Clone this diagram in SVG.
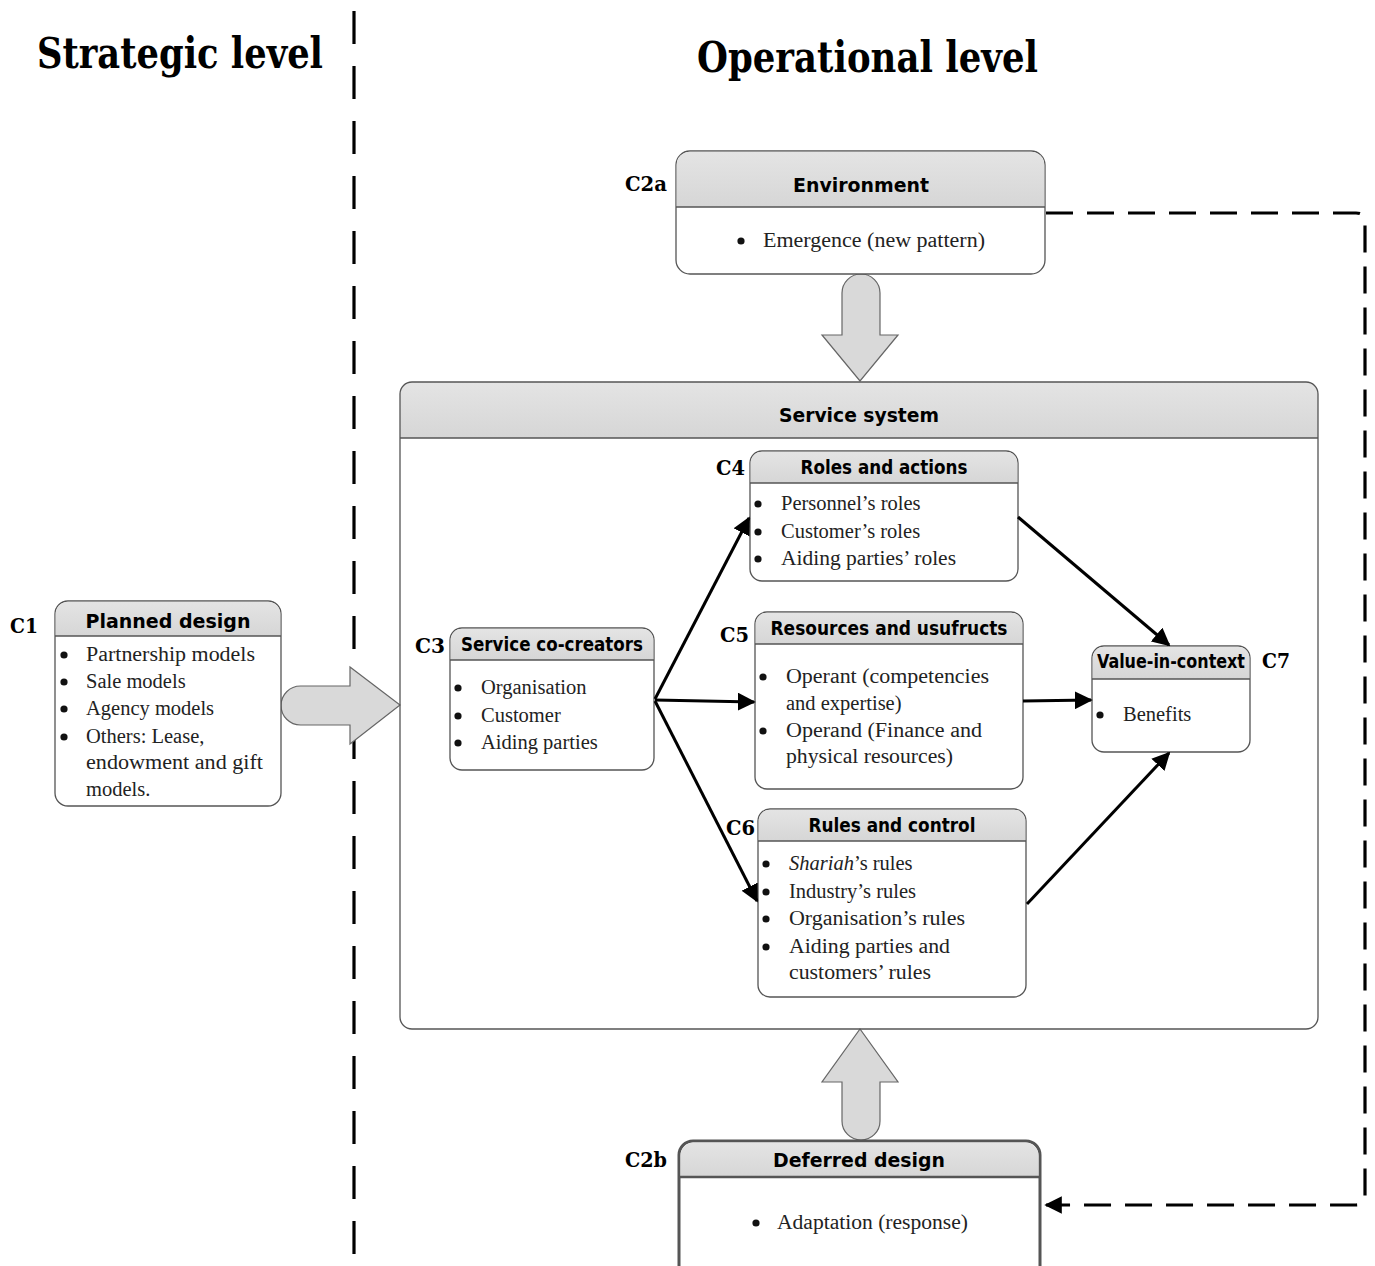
<svg xmlns="http://www.w3.org/2000/svg" width="1375" height="1266" viewBox="0 0 1375 1266">
  <style>
    .box { fill: #ffffff; stroke: #555555; stroke-width: 1.3; }
    .box2 { fill: #ffffff; stroke: #555555; stroke-width: 3; }
    .hdr { fill: url(#hdrGrad); }
    .sep { stroke: #555555; stroke-width: 1.3; }
    .sep2 { stroke: #555555; stroke-width: 2.5; }
    .title { font-family: "DejaVu Serif", "Liberation Serif", serif; font-weight: bold; font-size: 42px; fill: #000; }
    .head { font-family: "DejaVu Sans", "Liberation Sans", sans-serif; font-weight: bold; font-size: 20px; fill: #000; text-anchor: middle; }
    .tag { font-family: "DejaVu Serif", "Liberation Serif", serif; font-weight: bold; font-size: 21px; fill: #000; }
    .body { font-family: "Liberation Serif", "DejaVu Serif", serif; font-size: 20.5px; fill: #222; }
    .dot { fill: #111; }
    .fat { fill: #d9d9d9; stroke: #666666; stroke-width: 1.2; }
    .arr { stroke: #000; stroke-width: 3; fill: none; marker-end: url(#ah); }
    .dash { stroke: #000; stroke-width: 3.2; fill: none; }
  </style>
  <defs>
    <linearGradient id="hdrGrad" x1="0" y1="0" x2="0" y2="1">
      <stop offset="0" stop-color="#e4e4e4"/>
      <stop offset="1" stop-color="#d6d6d6"/>
    </linearGradient>
    <marker id="ah" viewBox="0 0 10 10" refX="9" refY="5" markerWidth="6" markerHeight="6" orient="auto" markerUnits="strokeWidth">
      <path d="M0,0 L10,5 L0,10 Z" fill="#000"/>
    </marker>
    <marker id="ahd" viewBox="0 0 10 10" refX="9" refY="5" markerWidth="5.5" markerHeight="5.5" orient="auto" markerUnits="strokeWidth">
      <path d="M0,0 L10,5 L0,10 Z" fill="#000"/>
    </marker>
  </defs>

  <rect width="1375" height="1266" fill="#ffffff"/>

  <!-- level titles and the dividing line -->
  <text class="title" x="37" y="68" textLength="286" lengthAdjust="spacingAndGlyphs">Strategic level</text>
  <text class="title" x="697" y="72" textLength="341" lengthAdjust="spacingAndGlyphs">Operational level</text>
  <line class="dash" x1="354" y1="11" x2="354" y2="1262" stroke-dasharray="33 22"/>

  <!-- block arrows between levels (drawn under the boxes) -->
  <g id="block-arrows">
    <path class="fat" d="M842,335 V293 A19,19 0 0 1 880,293 V335 H898 L860,381 L822,335 Z"/>
    <path class="fat" d="M842,1082 V1121 A19,19 0 0 0 880,1121 V1082 H898 L860,1029 L822,1082 Z"/>
    <path class="fat" d="M350,686 H300.5 A19.5,19.5 0 0 0 300.5,725 H350 V744 L400,705 L350,667 Z"/>
  </g>

  <!-- Service system container -->
  <g id="service-system">
    <path class="hdr" d="M412,382 H1306 A12,12 0 0 1 1318,394 V438 H400 V394 A12,12 0 0 1 412,382 Z"/>
    <rect class="box" x="400" y="382" width="918" height="647" rx="12" style="fill:none"/>
    <line class="sep" x1="400" y1="438" x2="1318" y2="438"/>
    <text class="head" x="859" y="422" textLength="160" lengthAdjust="spacingAndGlyphs">Service system</text>
  </g>

  <!-- C2a Environment -->
  <g id="environment">
    <rect class="box" x="676" y="151" width="369" height="123" rx="14"/>
    <path class="hdr" d="M690,151.7 H1031 A13.3,13.3 0 0 1 1044.3,165 V207 H676.7 V165 A13.3,13.3 0 0 1 690,151.7 Z"/>
    <line class="sep" x1="676" y1="207" x2="1045" y2="207"/>
    <text class="head" x="861" y="192" textLength="136" lengthAdjust="spacingAndGlyphs">Environment</text>
    <text class="tag" x="625" y="191" textLength="42" lengthAdjust="spacingAndGlyphs">C2a</text>
    <circle class="dot" cx="741" cy="241" r="3.6"/>
    <text class="body" x="763" y="247" textLength="222" lengthAdjust="spacingAndGlyphs">Emergence (new pattern)</text>
  </g>

  <!-- C1 Planned design -->
  <g id="planned-design">
    <rect class="box" x="55" y="601" width="226" height="205" rx="13"/>
    <path class="hdr" d="M68,601.7 H268 A12.3,12.3 0 0 1 280.3,614 V636 H55.7 V614 A12.3,12.3 0 0 1 68,601.7 Z"/>
    <line class="sep" x1="55" y1="636" x2="281" y2="636"/>
    <text class="head" x="168" y="628" font-size="23" textLength="165" lengthAdjust="spacingAndGlyphs">Planned design</text>
    <text class="tag" x="10" y="633" textLength="28" lengthAdjust="spacingAndGlyphs">C1</text>
    <g class="dot">
      <circle cx="64" cy="655" r="3.6"/><circle cx="64" cy="682" r="3.6"/>
      <circle cx="64" cy="709" r="3.6"/><circle cx="64" cy="737" r="3.6"/>
    </g>
    <g class="body">
      <text x="86" y="661" textLength="169" lengthAdjust="spacingAndGlyphs">Partnership models</text>
      <text x="86" y="688">Sale models</text>
      <text x="86" y="715">Agency models</text>
      <text x="86" y="743">Others: Lease,</text>
      <text x="86" y="769" textLength="177" lengthAdjust="spacingAndGlyphs">endowment and gift</text>
      <text x="86" y="796">models.</text>
    </g>
  </g>

  <!-- C3 Service co-creators -->
  <g id="service-co-creators">
    <rect class="box" x="450" y="628" width="204" height="142" rx="12"/>
    <path class="hdr" d="M462,628.7 H642 A11.3,11.3 0 0 1 653.3,640 V660 H450.7 V640 A11.3,11.3 0 0 1 462,628.7 Z"/>
    <line class="sep" x1="450" y1="660" x2="654" y2="660"/>
    <text class="head" x="552" y="651" textLength="182" lengthAdjust="spacingAndGlyphs">Service co-creators</text>
    <text class="tag" x="415" y="653" textLength="30" lengthAdjust="spacingAndGlyphs">C3</text>
    <g class="dot">
      <circle cx="458" cy="688" r="3.6"/><circle cx="458" cy="716" r="3.6"/><circle cx="458" cy="743" r="3.6"/>
    </g>
    <g class="body">
      <text x="481" y="694">Organisation</text>
      <text x="481" y="722">Customer</text>
      <text x="481" y="749">Aiding parties</text>
    </g>
  </g>

  <!-- C4 Roles and actions -->
  <g id="roles-and-actions">
    <rect class="box" x="750" y="451" width="268" height="130" rx="12"/>
    <path class="hdr" d="M762,451.7 H1006 A11.3,11.3 0 0 1 1017.3,463 V483 H750.7 V463 A11.3,11.3 0 0 1 762,451.7 Z"/>
    <line class="sep" x1="750" y1="483" x2="1018" y2="483"/>
    <text class="head" x="884" y="474" textLength="167" lengthAdjust="spacingAndGlyphs">Roles and actions</text>
    <text class="tag" x="716" y="475" textLength="29" lengthAdjust="spacingAndGlyphs">C4</text>
    <g class="dot">
      <circle cx="758" cy="504" r="3.6"/><circle cx="758" cy="532" r="3.6"/><circle cx="758" cy="559" r="3.6"/>
    </g>
    <g class="body">
      <text x="781" y="510">Personnel’s roles</text>
      <text x="781" y="538">Customer’s roles</text>
      <text x="781" y="565" textLength="175" lengthAdjust="spacingAndGlyphs">Aiding parties’ roles</text>
    </g>
  </g>

  <!-- C5 Resources and usufructs -->
  <g id="resources-and-usufructs">
    <rect class="box" x="755" y="612" width="268" height="177" rx="12"/>
    <path class="hdr" d="M767,612.7 H1011 A11.3,11.3 0 0 1 1022.3,624 V644 H755.7 V624 A11.3,11.3 0 0 1 767,612.7 Z"/>
    <line class="sep" x1="755" y1="644" x2="1023" y2="644"/>
    <text class="head" x="889" y="635" textLength="237" lengthAdjust="spacingAndGlyphs">Resources and usufructs</text>
    <text class="tag" x="720" y="642" textLength="29" lengthAdjust="spacingAndGlyphs">C5</text>
    <g class="dot">
      <circle cx="763" cy="677" r="3.6"/><circle cx="763" cy="731" r="3.6"/>
    </g>
    <g class="body">
      <text x="786" y="683" textLength="203" lengthAdjust="spacingAndGlyphs">Operant (competencies</text>
      <text x="786" y="710">and expertise)</text>
      <text x="786" y="737" textLength="196" lengthAdjust="spacingAndGlyphs">Operand (Finance and</text>
      <text x="786" y="763" textLength="167" lengthAdjust="spacingAndGlyphs">physical resources)</text>
    </g>
  </g>

  <!-- C6 Rules and control -->
  <g id="rules-and-control">
    <rect class="box" x="758" y="809" width="268" height="188" rx="12"/>
    <path class="hdr" d="M770,809.7 H1014 A11.3,11.3 0 0 1 1025.3,821 V841 H758.7 V821 A11.3,11.3 0 0 1 770,809.7 Z"/>
    <line class="sep" x1="758" y1="841" x2="1026" y2="841"/>
    <text class="head" x="892" y="832" textLength="167" lengthAdjust="spacingAndGlyphs">Rules and control</text>
    <text class="tag" x="726" y="835" textLength="29" lengthAdjust="spacingAndGlyphs">C6</text>
    <g class="dot">
      <circle cx="766" cy="864" r="3.6"/><circle cx="766" cy="892" r="3.6"/>
      <circle cx="766" cy="919" r="3.6"/><circle cx="766" cy="947" r="3.6"/>
    </g>
    <g class="body">
      <text x="789" y="870"><tspan font-style="italic">Shariah</tspan>’s rules</text>
      <text x="789" y="898">Industry’s rules</text>
      <text x="789" y="925" textLength="176" lengthAdjust="spacingAndGlyphs">Organisation’s rules</text>
      <text x="789" y="953" textLength="161" lengthAdjust="spacingAndGlyphs">Aiding parties and</text>
      <text x="789" y="979" textLength="142" lengthAdjust="spacingAndGlyphs">customers’ rules</text>
    </g>
  </g>

  <!-- C7 Value-in-context -->
  <g id="value-in-context">
    <rect class="box" x="1092" y="646" width="158" height="106" rx="12"/>
    <path class="hdr" d="M1104,646.7 H1238 A11.3,11.3 0 0 1 1249.3,658 V679 H1092.7 V658 A11.3,11.3 0 0 1 1104,646.7 Z"/>
    <line class="sep" x1="1092" y1="679" x2="1250" y2="679"/>
    <text class="head" x="1171" y="668" style="font-family:'DejaVu Sans Condensed','DejaVu Sans',sans-serif" font-size="16" textLength="148" lengthAdjust="spacingAndGlyphs">Value-in-context</text>
    <text class="tag" x="1262" y="668" textLength="28" lengthAdjust="spacingAndGlyphs">C7</text>
    <circle class="dot" cx="1100" cy="715" r="3.6"/>
    <text class="body" x="1123" y="721">Benefits</text>
  </g>

  <!-- C2b Deferred design -->
  <g id="deferred-design">
    <rect class="box2" x="679" y="1141" width="361" height="140" rx="14"/>
    <path class="hdr" d="M693,1142.5 H1025 A13.5,13.5 0 0 1 1038.5,1156 V1177 H680.5 V1156 A13.5,13.5 0 0 1 693,1142.5 Z"/>
    <line class="sep2" x1="679" y1="1177" x2="1040" y2="1177"/>
    <text class="head" x="859" y="1167" textLength="172" lengthAdjust="spacingAndGlyphs">Deferred design</text>
    <text class="tag" x="625" y="1167" textLength="42" lengthAdjust="spacingAndGlyphs">C2b</text>
    <circle class="dot" cx="756" cy="1223" r="3.6"/>
    <text class="body" x="777" y="1229" textLength="191" lengthAdjust="spacingAndGlyphs">Adaptation (response)</text>
  </g>

  <!-- connectors -->
  <g id="connectors">
    <!-- flows inside the service system -->
    <line class="arr" x1="655" y1="699" x2="749" y2="518"/>
    <line class="arr" x1="655" y1="700" x2="754" y2="702"/>
    <line class="arr" x1="655" y1="701" x2="757" y2="901"/>
    <line class="arr" x1="1018" y1="517" x2="1169" y2="645"/>
    <line class="arr" x1="1023" y1="701" x2="1091" y2="700"/>
    <line class="arr" x1="1027" y1="904" x2="1169" y2="753"/>
    <!-- feedback loop from environment to deferred design -->
    <path class="dash" d="M1046,213 H1356 Q1365,213 1365,222 V1196 Q1365,1205 1356,1205 H1046" stroke-dasharray="27 14" marker-end="url(#ahd)"/>
  </g>
</svg>
